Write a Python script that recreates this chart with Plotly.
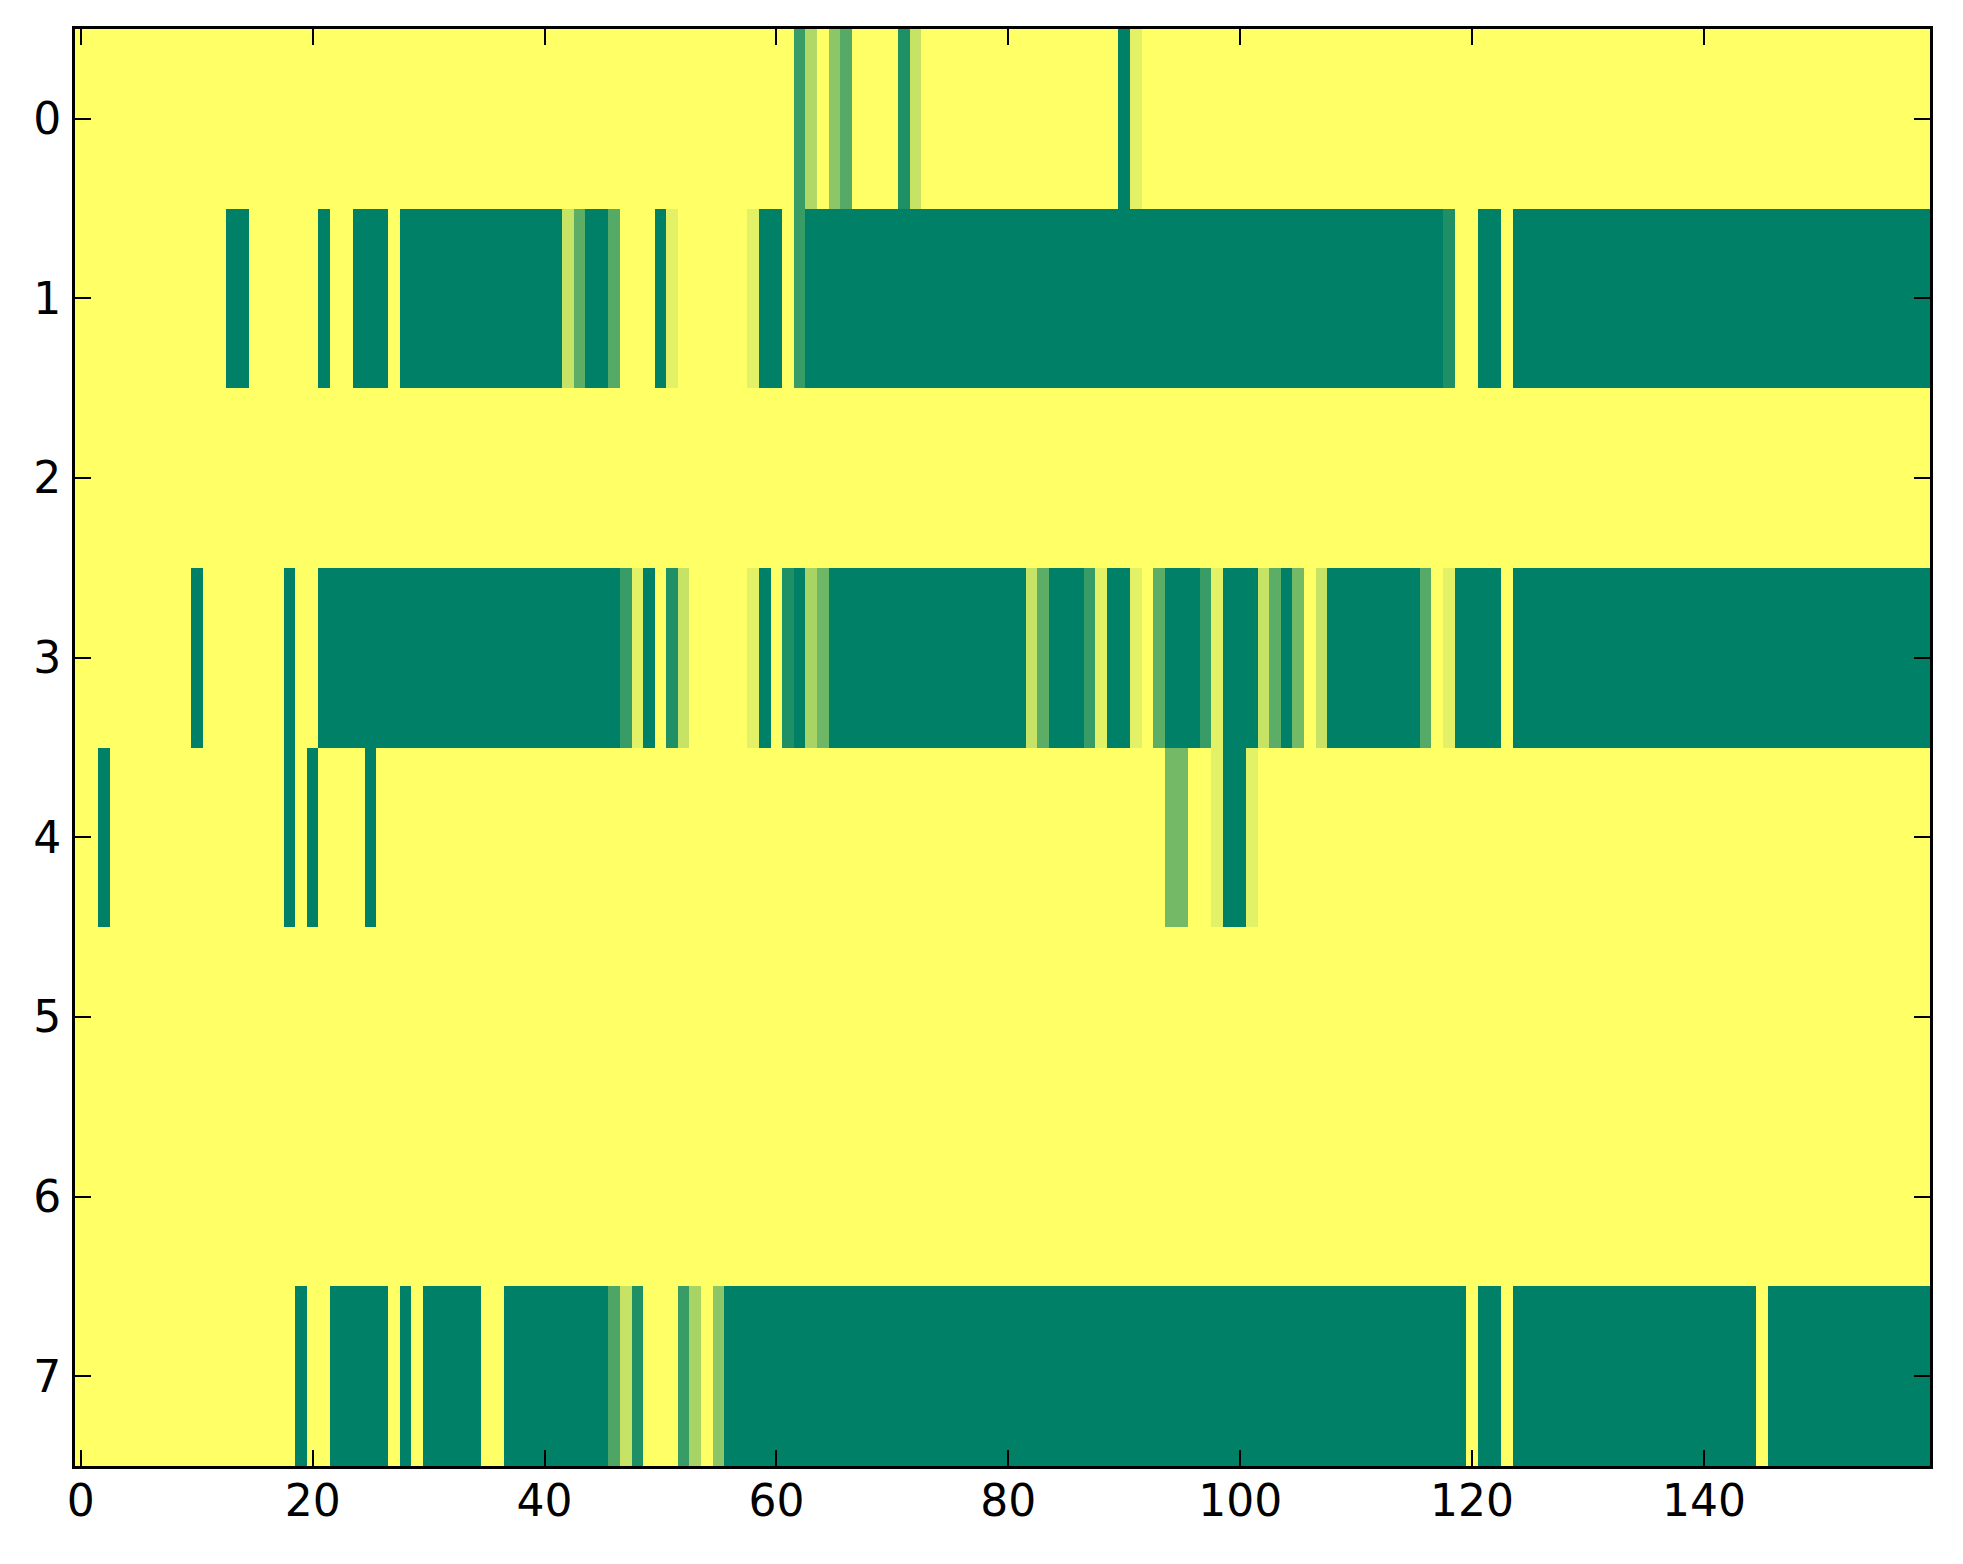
import plotly.graph_objects as go

# Column indices and row indices of the image grid
col_index = list(range(160))
row_index = list(range(8))

# Cell values (0 = dark green, 1 = yellow), one list per row
row0 = [1, 1, 1, 1, 1, 1, 1, 1, 1, 1, 1, 1, 1, 1, 1, 1, 1, 1, 1, 1,
        1, 1, 1, 1, 1, 1, 1, 1, 1, 1, 1, 1, 1, 1, 1, 1, 1, 1, 1, 1,
        1, 1, 1, 1, 1, 1, 1, 1, 1, 1, 1, 1, 1, 1, 1, 1, 1, 1, 1, 1,
        1, 1, .22, .69, 1, .55, .33, 1, 1, 1, 1, .12, .78, 1, 1, 1, 1, 1, 1, 1,
        1, 1, 1, 1, 1, 1, 1, 1, 1, 1, 0, .89, 1, 1, 1, 1, 1, 1, 1, 1,
        1, 1, 1, 1, 1, 1, 1, 1, 1, 1, 1, 1, 1, 1, 1, 1, 1, 1, 1, 1,
        1, 1, 1, 1, 1, 1, 1, 1, 1, 1, 1, 1, 1, 1, 1, 1, 1, 1, 1, 1,
        1, 1, 1, 1, 1, 1, 1, 1, 1, 1, 1, 1, 1, 1, 1, 1, 1, 1, 1, 1]

row1 = [1, 1, 1, 1, 1, 1, 1, 1, 1, 1, 1, 1, 1, 0, 0, 1, 1, 1, 1, 1,
        1, 0, 1, 1, 0, 0, 0, 1, 0, 0, 0, 0, 0, 0, 0, 0, 0, 0, 0, 0,
        0, 0, .78, .36, 0, 0, .33, 1, 1, 1, 0, .89, 1, 1, 1, 1, 1, 1, .89, 0,
        0, 1, .22, 0, 0, 0, 0, 0, 0, 0, 0, 0, 0, 0, 0, 0, 0, 0, 0, 0,
        0, 0, 0, 0, 0, 0, 0, 0, 0, 0, 0, 0, 0, 0, 0, 0, 0, 0, 0, 0,
        0, 0, 0, 0, 0, 0, 0, 0, 0, 0, 0, 0, 0, 0, 0, 0, 0, 0, .12, 1,
        1, 0, 0, 1, 0, 0, 0, 0, 0, 0, 0, 0, 0, 0, 0, 0, 0, 0, 0, 0,
        0, 0, 0, 0, 0, 0, 0, 0, 0, 0, 0, 0, 0, 0, 0, 0, 0, 0, 0, 0]

row2 = [1, 1, 1, 1, 1, 1, 1, 1, 1, 1, 1, 1, 1, 1, 1, 1, 1, 1, 1, 1,
        1, 1, 1, 1, 1, 1, 1, 1, 1, 1, 1, 1, 1, 1, 1, 1, 1, 1, 1, 1,
        1, 1, 1, 1, 1, 1, 1, 1, 1, 1, 1, 1, 1, 1, 1, 1, 1, 1, 1, 1,
        1, 1, 1, 1, 1, 1, 1, 1, 1, 1, 1, 1, 1, 1, 1, 1, 1, 1, 1, 1,
        1, 1, 1, 1, 1, 1, 1, 1, 1, 1, 1, 1, 1, 1, 1, 1, 1, 1, 1, 1,
        1, 1, 1, 1, 1, 1, 1, 1, 1, 1, 1, 1, 1, 1, 1, 1, 1, 1, 1, 1,
        1, 1, 1, 1, 1, 1, 1, 1, 1, 1, 1, 1, 1, 1, 1, 1, 1, 1, 1, 1,
        1, 1, 1, 1, 1, 1, 1, 1, 1, 1, 1, 1, 1, 1, 1, 1, 1, 1, 1, 1]

row3 = [1, 1, 1, 1, 1, 1, 1, 1, 1, 1, 0, 1, 1, 1, 1, 1, 1, 1, 0, 1,
        1, 0, 0, 0, 0, 0, 0, 0, 0, 0, 0, 0, 0, 0, 0, 0, 0, 0, 0, 0,
        0, 0, 0, 0, 0, 0, 0, .22, .89, 0, 1, .12, .78, 1, 1, 1, 1, 1, .89, 0,
        1, .12, 0, .66, .43, 0, 0, 0, 0, 0, 0, 0, 0, 0, 0, 0, 0, 0, 0, 0,
        0, 0, .78, .36, 0, 0, 0, .22, .89, 0, 0, .89, 1, .36, 0, 0, 0, .22, .89, 0,
        0, 0, .78, .36, 0, .45, 1, .78, 0, 0, 0, 0, 0, 0, 0, 0, .33, 1, .89, 0,
        0, 0, 0, 1, 0, 0, 0, 0, 0, 0, 0, 0, 0, 0, 0, 0, 0, 0, 0, 0,
        0, 0, 0, 0, 0, 0, 0, 0, 0, 0, 0, 0, 0, 0, 0, 0, 0, 0, 0, 0]

row4 = [1, 1, 0, 1, 1, 1, 1, 1, 1, 1, 1, 1, 1, 1, 1, 1, 1, 1, 0, 1,
        0, 1, 1, 1, 1, 0, 1, 1, 1, 1, 1, 1, 1, 1, 1, 1, 1, 1, 1, 1,
        1, 1, 1, 1, 1, 1, 1, 1, 1, 1, 1, 1, 1, 1, 1, 1, 1, 1, 1, 1,
        1, 1, 1, 1, 1, 1, 1, 1, 1, 1, 1, 1, 1, 1, 1, 1, 1, 1, 1, 1,
        1, 1, 1, 1, 1, 1, 1, 1, 1, 1, 1, 1, 1, 1, .45, .45, 1, 1, .89, 0,
        0, .89, 1, 1, 1, 1, 1, 1, 1, 1, 1, 1, 1, 1, 1, 1, 1, 1, 1, 1,
        1, 1, 1, 1, 1, 1, 1, 1, 1, 1, 1, 1, 1, 1, 1, 1, 1, 1, 1, 1,
        1, 1, 1, 1, 1, 1, 1, 1, 1, 1, 1, 1, 1, 1, 1, 1, 1, 1, 1, 1]

row5 = [1, 1, 1, 1, 1, 1, 1, 1, 1, 1, 1, 1, 1, 1, 1, 1, 1, 1, 1, 1,
        1, 1, 1, 1, 1, 1, 1, 1, 1, 1, 1, 1, 1, 1, 1, 1, 1, 1, 1, 1,
        1, 1, 1, 1, 1, 1, 1, 1, 1, 1, 1, 1, 1, 1, 1, 1, 1, 1, 1, 1,
        1, 1, 1, 1, 1, 1, 1, 1, 1, 1, 1, 1, 1, 1, 1, 1, 1, 1, 1, 1,
        1, 1, 1, 1, 1, 1, 1, 1, 1, 1, 1, 1, 1, 1, 1, 1, 1, 1, 1, 1,
        1, 1, 1, 1, 1, 1, 1, 1, 1, 1, 1, 1, 1, 1, 1, 1, 1, 1, 1, 1,
        1, 1, 1, 1, 1, 1, 1, 1, 1, 1, 1, 1, 1, 1, 1, 1, 1, 1, 1, 1,
        1, 1, 1, 1, 1, 1, 1, 1, 1, 1, 1, 1, 1, 1, 1, 1, 1, 1, 1, 1]

row6 = [1, 1, 1, 1, 1, 1, 1, 1, 1, 1, 1, 1, 1, 1, 1, 1, 1, 1, 1, 1,
        1, 1, 1, 1, 1, 1, 1, 1, 1, 1, 1, 1, 1, 1, 1, 1, 1, 1, 1, 1,
        1, 1, 1, 1, 1, 1, 1, 1, 1, 1, 1, 1, 1, 1, 1, 1, 1, 1, 1, 1,
        1, 1, 1, 1, 1, 1, 1, 1, 1, 1, 1, 1, 1, 1, 1, 1, 1, 1, 1, 1,
        1, 1, 1, 1, 1, 1, 1, 1, 1, 1, 1, 1, 1, 1, 1, 1, 1, 1, 1, 1,
        1, 1, 1, 1, 1, 1, 1, 1, 1, 1, 1, 1, 1, 1, 1, 1, 1, 1, 1, 1,
        1, 1, 1, 1, 1, 1, 1, 1, 1, 1, 1, 1, 1, 1, 1, 1, 1, 1, 1, 1,
        1, 1, 1, 1, 1, 1, 1, 1, 1, 1, 1, 1, 1, 1, 1, 1, 1, 1, 1, 1]

row7 = [1, 1, 1, 1, 1, 1, 1, 1, 1, 1, 1, 1, 1, 1, 1, 1, 1, 1, 1, 0,
        1, 1, 0, 0, 0, 0, 0, 1, 0, 1, 0, 0, 0, 0, 0, 1, 1, 0, 0, 0,
        0, 0, 0, 0, 0, 0, .3, .78, .12, 1, 1, 1, .22, .66, 1, .55, 0, 0, 0, 0,
        0, 0, 0, 0, 0, 0, 0, 0, 0, 0, 0, 0, 0, 0, 0, 0, 0, 0, 0, 0,
        0, 0, 0, 0, 0, 0, 0, 0, 0, 0, 0, 0, 0, 0, 0, 0, 0, 0, 0, 0,
        0, 0, 0, 0, 0, 0, 0, 0, 0, 0, 0, 0, 0, 0, 0, 0, 0, 0, 0, 0,
        1, 0, 0, 1, 0, 0, 0, 0, 0, 0, 0, 0, 0, 0, 0, 0, 0, 0, 0, 0,
        0, 0, 0, 0, 0, 1, 0, 0, 0, 0, 0, 0, 0, 0, 0, 0, 0, 0, 0, 0]

x_tick_values = [0, 20, 40, 60, 80, 100, 120, 140]
y_tick_values = [0, 1, 2, 3, 4, 5, 6, 7]

rows = [row0, row1, row2, row3, row4, row5, row6, row7]
for r in rows:
    assert len(r) == 160, len(r)

# matplotlib "summer" colormap
summer = [[0.0, "rgb(0,128,102)"], [1.0, "rgb(255,255,102)"]]

fig = go.Figure(
    go.Heatmap(
        z=rows,
        x=col_index,
        y=row_index,
        colorscale=summer,
        zmin=0,
        zmax=1,
        showscale=False,
    )
)

tick_font = dict(family="DejaVu Sans", size=44, color="black")

# page body has an 8px margin, so the figure is sized to fit inside the window
fig.update_layout(
    width=1947,
    height=1548,
    paper_bgcolor="white",
    plot_bgcolor="white",
    margin=dict(l=67, r=25, t=21, b=90),
    showlegend=False,
)

fig.update_xaxes(
    range=[-0.5, 159.5],
    tickmode="array",
    tickvals=x_tick_values,
    ticktext=[str(v) for v in x_tick_values],
    ticks="inside",
    ticklen=16,
    tickwidth=2,
    tickcolor="black",
    showline=True,
    linecolor="black",
    linewidth=3,
    mirror="ticks",
    showgrid=False,
    zeroline=False,
    tickfont=tick_font,
    ticklabelstandoff=-6,
)

fig.update_yaxes(
    range=[7.5, -0.5],
    tickmode="array",
    tickvals=y_tick_values,
    ticktext=[str(v) for v in y_tick_values],
    ticks="inside",
    ticklen=16,
    tickwidth=2,
    tickcolor="black",
    showline=True,
    linecolor="black",
    linewidth=3,
    mirror="ticks",
    showgrid=False,
    zeroline=False,
    tickfont=tick_font,
    ticklabelstandoff=2,
)

fig.write_html("out.html")
